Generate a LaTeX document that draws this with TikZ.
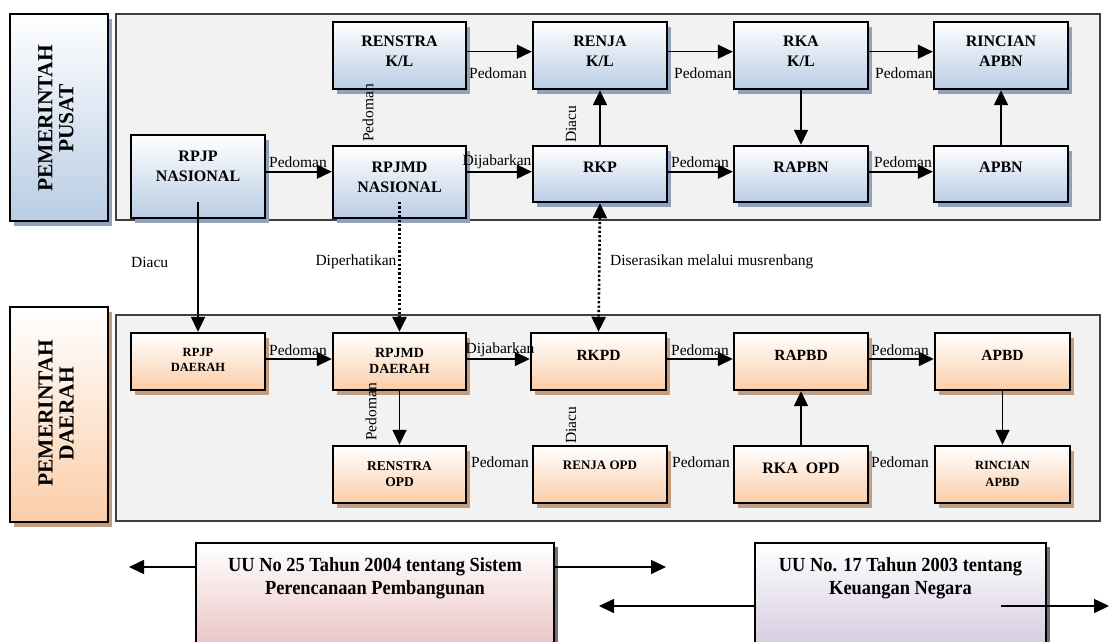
\documentclass[tikz,border=0pt]{standalone}
\usepackage{fontspec}
\setmainfont{Liberation Serif}
\newfontfamily\condfont[FakeStretch=0.92]{Liberation Serif}
\usetikzlibrary{arrows.meta,shadows,fit,calc}
\definecolor{bluebot}{HTML}{B9CDE5}
\definecolor{peachbot}{HTML}{FBCDA8}
\definecolor{blueshadow}{HTML}{8FA1BB}
\definecolor{peachshadow}{HTML}{C49C7E}
\definecolor{panelfill}{HTML}{F2F2F2}
\definecolor{panelline}{HTML}{3F3F3F}
\definecolor{pinkbot}{HTML}{E6B9B8}
\definecolor{lavbot}{HTML}{CCC1DA}
\begin{document}
\begin{tikzpicture}[x=1pt,y=-1pt,
  panel/.style={draw=panelline, fill=panelfill, line width=1.4pt, inner sep=0pt},
  bluebox/.style={draw=black, line width=2.4pt, top color=white, bottom color=bluebot, inner sep=0pt,
    general shadow={fill=blueshadow, shadow xshift=4pt, shadow yshift=-5pt}},
  peachbox/.style={draw=black, line width=2.4pt, top color=white, bottom color=peachbot, inner sep=0pt,
    general shadow={fill=peachshadow, shadow xshift=4pt, shadow yshift=-5pt}},
  lawbox/.style={draw=black, line width=2pt, inner sep=0pt,
    general shadow={fill=black!55, shadow xshift=4pt, shadow yshift=-4pt}},
  boxtxt/.style={font=\bfseries\fontsize{16}{20}\selectfont, align=center, inner sep=0pt},
  sidetxt/.style={font=\bfseries\fontsize{21.5}{21}\selectfont, align=center, inner sep=0pt, rotate=90},
  lawtxt/.style={font=\condfont\bfseries\fontsize{20}{23}\selectfont, align=center, inner sep=0pt},
  lbl/.style={font=\fontsize{15.5}{18}\selectfont, inner sep=0pt},
  arr/.style={-{Triangle[length=15pt,width=14pt]}, line width=1.6pt},
  dotarr/.style={-{Triangle[length=15pt,width=14pt]}, line width=2.6pt, dash pattern=on 2.2pt off 2.2pt},
  dotdbl/.style={{Triangle[length=15pt,width=14pt]}-{Triangle[length=15pt,width=14pt]}, line width=2.6pt, dash pattern=on 2.2pt off 2.2pt}
]
\useasboundingbox (0,0) rectangle (1109,642);
\clip (0,0) rectangle (1109,642);

% ---------- panels and side boxes ----------
\node[panel, fit={(116,14) (1100,220)}] (pusatpanel) {};
\node[panel, fit={(116,315) (1100,521)}] (daerahpanel) {};
\node[bluebox, fit={(10,14) (108,221)}] (pusatside) {};
\node[peachbox, fit={(10,307) (108,522)}] (daerahside) {};
\node[sidetxt] (pusatT) at (56,118.5) {PEMERINTAH\\PUSAT};
\node[sidetxt] (daerahT) at (56,413.5) {PEMERINTAH\\DAERAH};

% ---------- pusat boxes ----------
\node[bluebox, fit={(333,22) (466,89)}] (renstrakl) {};
\node[bluebox, fit={(533,22) (667,89)}] (renjakl) {};
\node[bluebox, fit={(734,22) (868,89)}] (rkakl) {};
\node[bluebox, fit={(934,22) (1068,89)}] (rincianapbn) {};
\node[bluebox, fit={(131,135) (265,218)}] (rpjpn) {};
\node[bluebox, fit={(333,146) (466,218)}] (rpjmdn) {};
\node[bluebox, fit={(533,146) (667,202)}] (rkp) {};
\node[bluebox, fit={(734,146) (868,202)}] (rapbn) {};
\node[bluebox, fit={(934,146) (1068,202)}] (apbn) {};

\node[boxtxt] (renstraklT) at (399.5,51.7) {RENSTRA\\K/L};
\node[boxtxt] (renjaklT) at (600,51.7) {RENJA\\K/L};
\node[boxtxt] (rkaklT) at (801,51.7) {RKA\\K/L};
\node[boxtxt] (rincianapbnT) at (1001,51.7) {RINCIAN\\APBN};
\node[boxtxt] (rpjpnT) at (198,166) {RPJP\\NASIONAL};
\node[boxtxt] (rpjmdnT) at (399.5,177) {RPJMD\\NASIONAL};
\node[boxtxt] (rkpT) at (600,167) {RKP};
\node[boxtxt] (rapbnT) at (801,167) {RAPBN};
\node[boxtxt] (apbnT) at (1001,167) {APBN};

% ---------- daerah boxes ----------
\node[peachbox, fit={(131,333) (265,390)}] (rpjpd) {};
\node[peachbox, fit={(333,333) (466,390)}] (rpjmdd) {};
\node[peachbox, fit={(531,333) (666,390)}] (rkpd) {};
\node[peachbox, fit={(734,333) (868,390)}] (rapbd) {};
\node[peachbox, fit={(935,333) (1070,390)}] (apbd) {};
\node[peachbox, fit={(333,446) (466,503)}] (renstraopd) {};
\node[peachbox, fit={(533,446) (667,503)}] (renjaopd) {};
\node[peachbox, fit={(734,446) (868,503)}] (rkaopd) {};
\node[peachbox, fit={(935,446) (1070,503)}] (rincianapbd) {};

\node[boxtxt, font=\bfseries\fontsize{12.5}{14.5}\selectfont] (rpjpdT) at (198,360) {RPJP\\DAERAH};
\node[boxtxt, font=\bfseries\fontsize{14}{16}\selectfont] (rpjmddT) at (399.5,360.5) {RPJMD\\DAERAH};
\node[boxtxt, font=\bfseries\fontsize{15.5}{18}\selectfont] (rkpdT) at (598.5,355) {RKPD};
\node[boxtxt, font=\bfseries\fontsize{15.5}{18}\selectfont] (rapbdT) at (801,355) {RAPBD};
\node[boxtxt, font=\bfseries\fontsize{15.5}{18}\selectfont] (apbdT) at (1002.5,355) {APBD};
\node[boxtxt, font=\bfseries\fontsize{13.5}{16}\selectfont] (renstraopdT) at (399.5,474) {RENSTRA\\OPD};
\node[boxtxt, font=\bfseries\fontsize{13}{16}\selectfont] (renjaopdT) at (600,465) {RENJA OPD};
\node[boxtxt, font=\bfseries\fontsize{16}{18}\selectfont] (rkaopdT) at (801,468) {RKA\ \ OPD};
\node[boxtxt, font=\bfseries\fontsize{12.5}{17}\selectfont] (rincianapbdT) at (1002.5,474) {RINCIAN\\APBD};

% ---------- law boxes ----------
\node[lawbox, top color=white, bottom color=pinkbot, fit={(196,543) (554,668)}] (uu25) {};
\node[lawbox, top color=white, bottom color=lavbot, fit={(755,543) (1046,668)}] (uu17) {};
\node[lawtxt] (uu25T) at (375,578.5) {UU No 25 Tahun 2004 tentang Sistem\\Perencanaan Pembangunan};
\node[lawtxt] (uu17T) at (900.5,578.5) {UU No. 17 Tahun 2003 tentang\\Keuangan Negara};

% ---------- helper coordinates ----------
\coordinate (r2) at (0,171.7);
\coordinate (ra) at (0,359);
\coordinate (s1) at (198,202);
\coordinate (s2) at (399.5,202);
\coordinate (lt1) at (129,567);
\coordinate (rt1) at (666,567);
\coordinate (lt2) at (599,606);
\coordinate (st2) at (1001,606);
\coordinate (rt2) at (1109,606);

% ---------- pusat connectors ----------
\draw[arr] ([yshift=3.8pt]renstrakl.east) -- ([yshift=3.8pt]renjakl.west);
\draw[arr] ([yshift=3.8pt]renjakl.east) -- ([yshift=3.8pt]rkakl.west);
\draw[arr] ([yshift=3.8pt]rkakl.east) -- ([yshift=3.8pt]rincianapbn.west);
\draw[arr] (rpjpn.east |- r2) -- (rpjmdn.west |- r2);
\draw[arr] (rpjmdn.east |- r2) -- (rkp.west |- r2);
\draw[arr] (rkp.east |- r2) -- (rapbn.west |- r2);
\draw[arr] (rapbn.east |- r2) -- (apbn.west |- r2);
\draw[arr] (rkp.north) -- (renjakl.south);
\draw[arr] (rkakl.south) -- (rapbn.north);
\draw[arr] (apbn.north) -- (rincianapbn.south);

% ---------- between levels ----------
\draw[arr] (s1) -- (rpjpd.north);
\draw[dotarr] (s2) -- (rpjmdd.north);
\draw[dotdbl] (rkp.south) -- (rkpd.north);

% ---------- daerah connectors ----------
\draw[arr] (rpjpd.east |- ra) -- (rpjmdd.west |- ra);
\draw[arr] (rpjmdd.east |- ra) -- (rkpd.west |- ra);
\draw[arr] (rkpd.east |- ra) -- (rapbd.west |- ra);
\draw[arr] (rapbd.east |- ra) -- (apbd.west |- ra);
\draw[arr] (rpjmdd.south) -- (renstraopd.north);
\draw[arr] (rkaopd.north) -- (rapbd.south -| rkaopd.north);
\draw[arr] (apbd.south) -- (rincianapbd.north);

% ---------- law arrows ----------
\draw[arr] (uu25.west |- lt1) -- (lt1);
\draw[arr] (uu25.east |- rt1) -- (rt1);
\draw[arr] (uu17.west |- lt2) -- (lt2);
\draw[arr] (st2) -- (rt2);

% ---------- labels ----------
\node[lbl] (l1) at (498,72.7) {Pedoman};
\node[lbl] (l2) at (703,72.7) {Pedoman};
\node[lbl] (l3) at (904,72.7) {Pedoman};
\node[lbl] (l4) at (298,161.7) {Pedoman};
\node[lbl] (l5) at (497,161.7) {Dijabarkan};
\node[lbl] (l6) at (700,161.7) {Pedoman};
\node[lbl] (l7) at (903,161.7) {Pedoman};
\node[lbl, rotate=90] (l8) at (368,113) {Pedoman};
\node[lbl, rotate=90] (l9) at (571,124) {Diacu};
\node[lbl, anchor=west] (l10) at (131,262) {Diacu};
\node[lbl] (l11) at (356,262) {Diperhatikan};
\node[lbl, anchor=west] (l12) at (610,262) {Diserasikan melalui musrenbang};
\node[lbl] (l13) at (298,350) {Pedoman};
\node[lbl] (l14) at (500,350) {Dijabarkan};
\node[lbl] (l15) at (700,350) {Pedoman};
\node[lbl] (l16) at (900,350) {Pedoman};
\node[lbl] (l17) at (500,461.7) {Pedoman};
\node[lbl] (l18) at (701,461.7) {Pedoman};
\node[lbl] (l19) at (900,461.7) {Pedoman};
\node[lbl, rotate=90] (l20) at (371,412) {Pedoman};
\node[lbl, rotate=90] (l21) at (571,425) {Diacu};
\end{tikzpicture}
\end{document}
